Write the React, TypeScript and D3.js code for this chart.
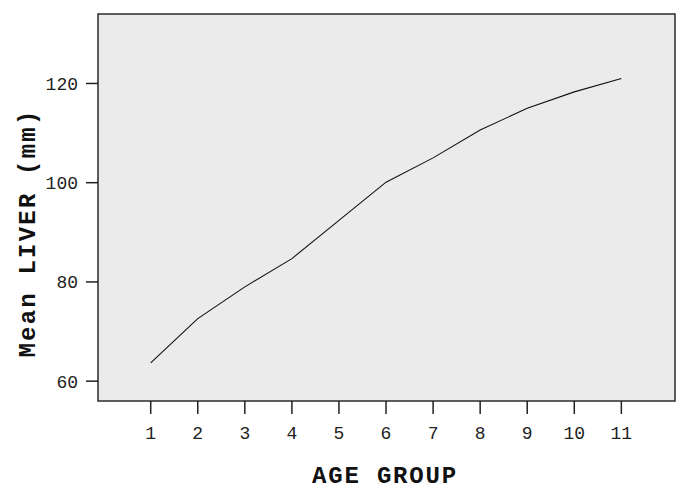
import * as d3 from "d3";

const ageGroups = [1, 2, 3, 4, 5, 6, 7, 8, 9, 10, 11];
const meanLiver = [63.7, 72.6, 79.0, 84.7, 92.4, 100.1, 105.0, 110.6, 115.0, 118.3, 121.0];
const yTicks = [60, 80, 100, 120];

export default function App() {
  const width = 679;
  const height = 488;
  const left = 98;
  const right = 675;
  const top = 14;
  const bottom = 401;

  const x = d3.scaleLinear().domain([-0.12, 12.14]).range([left, right]);
  const y = d3.scaleLinear().domain([56, 134]).range([bottom, top]);

  const line = d3
    .line<number>()
    .x((_, i) => x(ageGroups[i]))
    .y((d) => y(d));

  const monoFont = "'Liberation Mono', 'Courier New', monospace";

  return (
    <svg
      width={width}
      height={height}
      style={{ position: "absolute", left: 0, top: 0, background: "white" }}
    >
      <rect
        x={left}
        y={top}
        width={right - left}
        height={bottom - top}
        fill="#ebebeb"
        stroke="#2b2b2b"
        strokeWidth={1.5}
      />
      <path d={line(meanLiver) || ""} fill="none" stroke="#111" strokeWidth={1.1} />

      {yTicks.map((t) => (
        <g key={t}>
          <line x1={86} x2={left} y1={y(t)} y2={y(t)} stroke="#222" strokeWidth={1.5} />
          <text
            x={78}
            y={y(t) + 6.5}
            textAnchor="end"
            fontFamily={monoFont}
            fontSize={18}
            fill="#222"
          >
            {t}
          </text>
        </g>
      ))}

      {ageGroups.map((g) => (
        <g key={g}>
          <line x1={x(g)} x2={x(g)} y1={bottom} y2={414} stroke="#222" strokeWidth={1.5} />
          <text
            x={x(g)}
            y={439}
            textAnchor="middle"
            fontFamily={monoFont}
            fontSize={18}
            fill="#222"
          >
            {g}
          </text>
        </g>
      ))}

      <text
        x={385}
        y={483}
        textAnchor="middle"
        fontFamily={monoFont}
        fontWeight="bold"
        fontSize={24}
        letterSpacing={1.8}
        fill="#111"
      >
        AGE GROUP
      </text>
      <text
        transform={`translate(35, 233) rotate(-90)`}
        textAnchor="middle"
        fontFamily={monoFont}
        fontWeight="bold"
        fontSize={24}
        letterSpacing={2.2}
        fill="#111"
      >
        Mean LIVER (mm)
      </text>
    </svg>
  );
}
